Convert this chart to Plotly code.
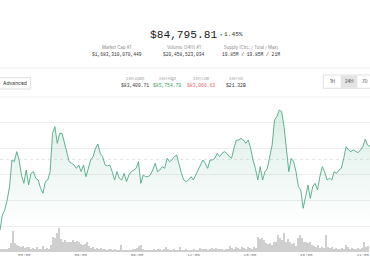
import plotly.graph_objects as go
import pandas as pd

# ---------------- data ----------------
header_price = "$84,795.81"
header_change = "1.45%"
stat_titles = ["Market Cap #1", "Volume (24H) #1", "Supply (Circ. / Total / Max)"]
stat_values = ["$1,683,310,070,449", "$20,458,523,034", "19.85M / 19.85M / 21M"]
day_titles = ["24H Open", "24H High", "24H Low", "24H Vol"]
day_values = ["$83,400.71", "$85,754.79", "$83,066.63", "$21.32B"]
range_buttons = ["1H", "24H", "7D"]

t_start = "2025-03-10 01:42:27"
t_end = "2025-03-10 21:23:18"
ref_level = 84300

prices = [
    82942, 83231, 83327, 83519, 83776, 84288, 84256, 84449, 84288, 84000,
    83840, 84096, 83808, 84032, 84064, 83936, 83904, 83744, 83647, 83872,
    83904, 84064, 84801, 84929, 84609, 84801, 84801, 84609, 84417, 84256,
    84224, 84192, 84128, 84192, 84064, 84192, 83968, 84128, 84288, 84353,
    84513, 84596, 84417, 84353, 84192, 84173, 84192, 84064, 83904, 84064,
    83936, 83904, 84032, 83872, 84000, 84064, 84096, 84128, 84256, 83840,
    84000, 83968, 83968, 84000, 84096, 84224, 84064, 84096, 84160, 84128,
    84321, 84256, 84288, 84353, 84385, 84192, 84032, 83904, 83872, 83904,
    83968, 83904, 84000, 84064, 84160, 84288, 84224, 84128, 84288, 84288,
    84321, 84417, 84353, 84417, 84449, 84417, 84353, 84321, 84513, 84673,
    84673, 84705, 84673, 84609, 84673, 84513, 84288, 84128, 83904, 84160,
    83904, 84064, 84128, 84353, 84577, 85058, 85122, 85250, 85218, 84929,
    84417, 84064, 84321, 84256, 84064, 83776, 83712, 83359, 83583, 83808,
    83551, 83776, 83840, 83712, 83968, 84160, 84064, 83904, 83936, 83904,
    84064, 84032, 84096, 84128, 84321, 84545, 84481, 84449, 84481, 84449,
    84429, 84481, 84545, 84686, 84577, 84545,
]

volumes = [
    80, 80, 100, 100, 120,
    250, 600,
    250, 200, 180,
    150, 180, 120, 150, 140, 100, 120,
    100, 150, 100, 80, 180, 100, 120, 100,
    200,
    450, 400, 550, 700,
    380, 300, 350, 280,
    300, 280, 350, 300, 320,
    280, 220, 200, 220, 280,
    180, 120, 150, 100, 120, 80,
    120, 80, 100, 60, 100, 80, 60, 80, 60, 70,
    200,
    60, 50, 50, 60, 50, 80, 100, 120, 180,
    200,
    80, 60, 50, 60, 50, 40, 80, 60, 100, 80, 60, 80,
    150, 100, 60,
    50, 80, 40, 60,
    140, 60, 50,
    80, 40, 60, 50, 80, 50, 60,
    120, 100, 80, 100, 60, 80, 120, 100, 120, 100, 80, 100, 60, 80, 80,
    180,
    120, 100, 140, 120, 100, 150, 120, 100, 140, 120, 100, 140, 120,
    450, 380, 400, 350,
    250, 220, 250, 200, 280, 300,
    500, 400, 350, 550, 300, 380,
    280, 220, 250, 180,
    400, 500, 420,
    300, 280, 250, 280, 200,
    180, 150, 200, 120, 150, 120,
    500,
    150, 120, 140, 100, 120, 80, 100, 120, 80,
    200,
    140, 100, 120, 80, 100, 120, 100, 120,
    280, 150, 180,
]

# ---------------- styling ----------------
W, H = 370, 266
GREEN = "#4fa985"
SANS = "Inter, Liberation Sans, sans-serif"
MONO = "Liberation Mono, DejaVu Sans Mono, monospace"


def px(x):
    return x / W


def py(y):
    return 1 - y / H


T0 = pd.Timestamp(t_start)
T1 = pd.Timestamp(t_end)
price_times = pd.date_range(T0, T1, periods=len(prices))
vstep = (T1 - T0) / len(volumes)
vol_times = [T0 + vstep * (i + 0.5) for i in range(len(volumes))]
bar_width_ms = vstep.total_seconds() * 1000 * 0.62

# volume axis: baseline (0) at pixel 252, 700 at pixel 228, axis bottom at pixel 259.5
VOL_TOP_PX, VOL_BASE_PX, AXIS_PX = 228.0, 252.0, 259.5
vol_max = 700
vol_min = -vol_max * (AXIS_PX - VOL_BASE_PX) / (VOL_BASE_PX - VOL_TOP_PX)

fig = go.Figure()
fig.add_trace(go.Bar(
    x=vol_times, y=volumes, width=bar_width_ms,
    marker=dict(color="#cfcfcf", line=dict(width=0)),
    yaxis="y2", hoverinfo="skip",
))
fig.add_trace(go.Scatter(
    x=price_times, y=prices, mode="lines",
    line=dict(color=GREEN, width=0.9),
    fill="tozeroy",
    fillgradient=dict(
        type="vertical",
        colorscale=[[0, "rgba(79,169,133,0)"], [1, "rgba(79,169,133,0.2)"]],
        start=83000, stop=85250,
    ),
    yaxis="y", hoverinfo="skip",
))

annotations = []


def txt(text, x, y, size, color="#222", family=SANS):
    annotations.append(dict(
        text=text, x=px(x), y=py(y), xref="paper", yref="paper",
        showarrow=False, xanchor="center", yanchor="middle",
        font=dict(size=size, color=color, family=family),
    ))


txt(header_price, 183.7, 34.7, 11.2, "#1a1a1a", MONO)
txt(header_change, 233.8, 34.7, 6.2, "#333", MONO)
for t, v, cx in zip(stat_titles, stat_values, [116.7, 184.0, 251.3]):
    txt(t, cx, 47.3, 4.3, "#888")
    txt(v, cx, 54.7, 4.6, "#333", MONO)

value_colors = ["#333", "#3a9a5a", "#e06464", "#333"]
for t, v, cx, c in zip(day_titles, day_values, [134.5, 167.0, 201.0, 236.0], value_colors):
    txt(t, cx, 78.3, 3.8, "#999")
    txt(v, cx, 85.7, 4.7, c, MONO)

txt("Advanced", 15.3, 83.3, 5.0, "#333")
for b, cx in zip(range_buttons, [332.0, 349.0, 364.5]):
    txt(b, cx, 81.7, 4.3, "#333")

shapes = [
    dict(type="line", xref="paper", yref="paper", x0=0, x1=1, y0=py(68), y1=py(68),
         line=dict(color="#efefef", width=1)),
    dict(type="line", xref="paper", yref="paper", x0=0, x1=1, y0=py(97), y1=py(97),
         line=dict(color="#efefef", width=1)),
    dict(type="rect", xref="paper", yref="paper", x0=px(-2), x1=px(30.7), y0=py(89), y1=py(77.7),
         line=dict(color="#d8d8d8", width=0.8), fillcolor="white", layer="below"),
    dict(type="rect", xref="paper", yref="paper", x0=px(323.3), x1=px(375), y0=py(88.3), y1=py(75),
         line=dict(color="#d8d8d8", width=0.8), fillcolor="white", layer="below"),
    dict(type="rect", xref="paper", yref="paper", x0=px(340.7), x1=px(357.3), y0=py(87.8), y1=py(75.5),
         line=dict(width=0), fillcolor="#e3e3e3", layer="below"),
    dict(type="rect", xref="paper", yref="paper", x0=px(220.6), x1=px(222.2), y0=py(35.6), y1=py(34.0),
         line=dict(width=0), fillcolor=GREEN),
    dict(type="line", xref="paper", yref="y", x0=0, x1=1, y0=ref_level, y1=ref_level,
         line=dict(color="#dddddd", width=0.8, dash="dot"), layer="below"),
]

fig.update_layout(
    width=W, height=H,
    margin=dict(l=0, r=0, t=0, b=0, pad=0, autoexpand=False),
    paper_bgcolor="white", plot_bgcolor="rgba(0,0,0,0)",
    showlegend=False, bargap=0,
    annotations=annotations, shapes=shapes,
    xaxis=dict(
        type="date", range=[T0, T1], domain=[0, 1], anchor="y2",
        showgrid=False, zeroline=False, showline=False, ticks="",
        automargin=False, ticklabelposition="inside",
        tickformat="%H:%M", dtick=3 * 3600 * 1000, tick0="2025-03-10 00:00",
        tickfont=dict(size=4.2, color="#777", family=MONO),
    ),
    yaxis=dict(
        domain=[py(252), py(100)], range=[82519, 85442],
        dtick=500, tick0=0, showgrid=True, gridcolor="#eeeeee", gridwidth=1,
        showticklabels=False, zeroline=False, showline=False, ticks="",
        anchor="x", automargin=False,
    ),
    yaxis2=dict(
        domain=[py(AXIS_PX), py(VOL_TOP_PX)], range=[vol_min, vol_max],
        showgrid=False, showticklabels=False, zeroline=False, showline=False,
        ticks="", anchor="x", automargin=False,
    ),
)

fig.write_html(
    "out.html",
    config={"displayModeBar": False},
    post_script="document.body.style.margin='0';document.body.style.padding='0';",
)
